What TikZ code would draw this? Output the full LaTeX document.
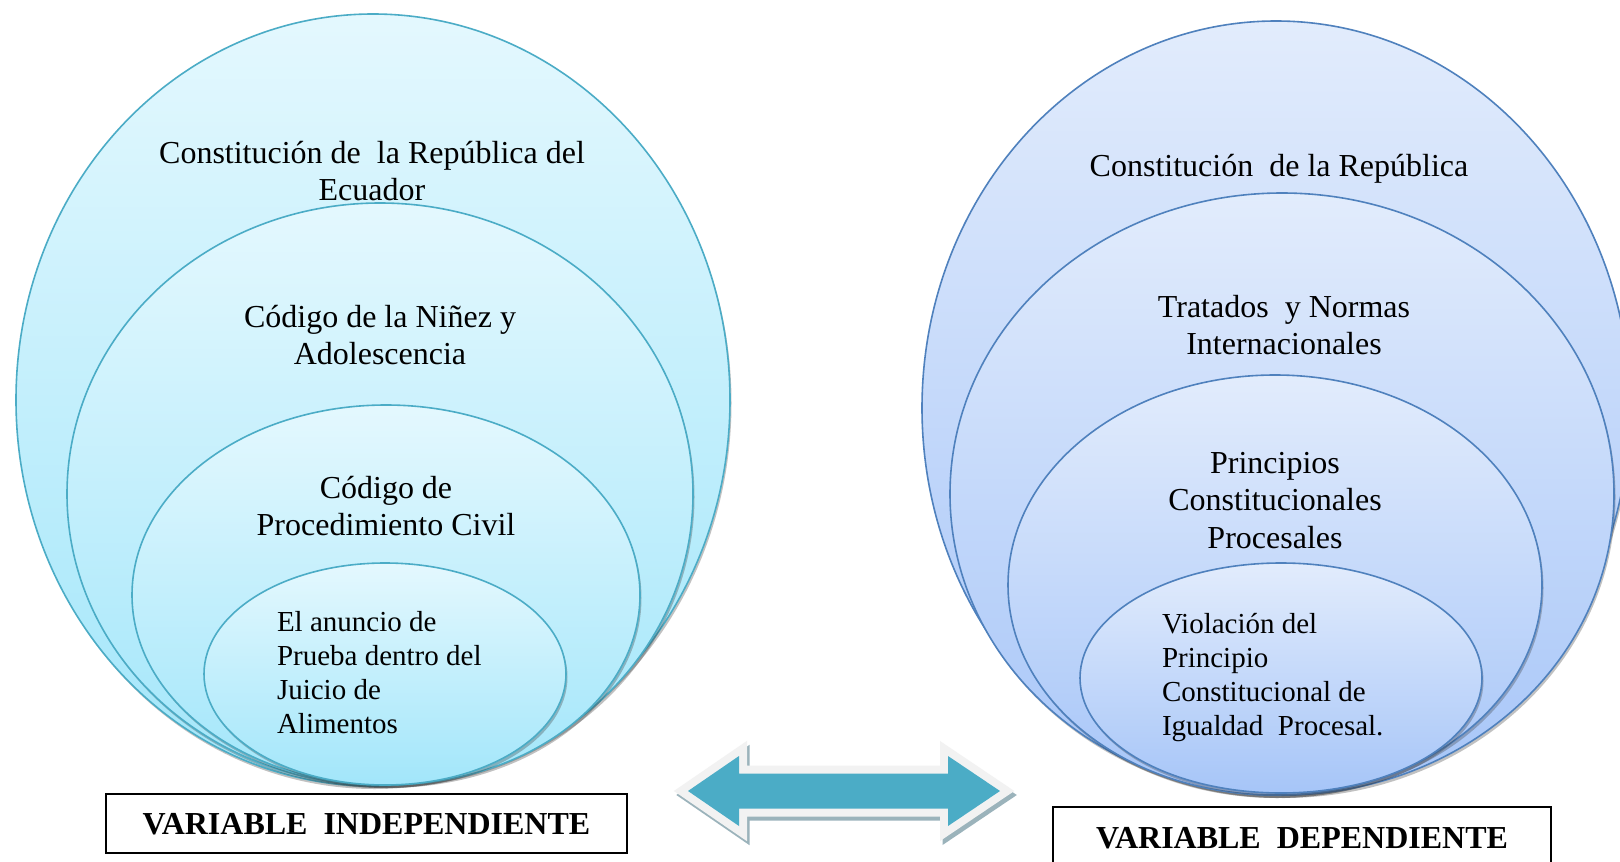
\documentclass[tikz,border=0pt]{standalone}
\usepackage{fontspec}
\setmainfont{Liberation Serif}
\usetikzlibrary{shapes.geometric,shadows}
\definecolor{aquaB}{RGB}{75,172,198}
\definecolor{aquaT}{RGB}{228,248,254}
\definecolor{aquaD}{RGB}{162,230,250}
\definecolor{blueB}{RGB}{79,129,189}
\definecolor{blueT}{RGB}{226,236,252}
\definecolor{blueD}{RGB}{166,197,248}
\definecolor{arrowF}{RGB}{75,172,198}
\definecolor{arrowE}{RGB}{242,242,242}
\definecolor{arrowS}{RGB}{138,166,176}
\begin{document}
\begin{tikzpicture}[x=1pt,y=-1pt,
  ellbase/.style={ellipse, inner sep=0pt, outer sep=0pt, line width=1.6pt,
    drop shadow={shadow xshift=1.5pt, shadow yshift=-3pt, opacity=0.3, fill=black!80}},
  aquaell/.style={ellbase, draw=aquaB, top color=aquaT, bottom color=aquaD},
  blueell/.style={ellbase, draw=blueB, top color=blueT, bottom color=blueD},
  esize/.style 2 args={minimum width=#1pt, minimum height=#2pt},
  txt/.style={inner sep=0pt, outer sep=0pt, align=center, anchor=base, font=\fontsize{32}{37}\selectfont},
  txtin/.style={inner sep=0pt, outer sep=0pt, align=left, anchor=base west, font=\fontsize{29}{33.8}\selectfont},
  varbox/.style={draw=black, line width=1.6pt, inner sep=0pt, text depth=0pt, font=\fontsize{32}{37}\selectfont\bfseries}
]
\useasboundingbox (0,0) rectangle (1620,862);
\fill[white] (0,0) rectangle (1620,862);

% left group
\node[aquaell, esize={714}{772}] (L1) at (373,400) {};
\node[aquaell, esize={626}{582}] (L2) at (380,494) {};
\node[aquaell, esize={508}{380}] (L3) at (386,595) {};
\node[aquaell, esize={362}{222}] (L4) at (385,674) {};

% right group
\node[blueell, esize={708}{774}] (R1) at (1276,408) {};
\node[blueell, esize={664}{602}] (R2) at (1282,494) {};
\node[blueell, esize={534}{420}] (R3) at (1275,585) {};
\node[blueell, esize={402}{230}] (R4) at (1281,678) {};

% texts left (anchor base = baseline of the last line)
\node[txt] (tL1) at (372,200) {Constitución de\ \ la República del\\Ecuador};
\node[txt] (tL2) at (380,364) {Código de la Niñez y\\Adolescencia};
\node[txt] (tL3) at (386,535) {Código de\\Procedimiento Civil};
\node[txtin] (tL4) at (277,733) {El anuncio de\\Prueba dentro del\\Juicio de\\Alimentos};

% texts right
\node[txt] (tR1) at (1279,176) {Constitución\ \ de la República};
\node[txt] (tR2) at (1284,354) {Tratados\ \ y Normas\\Internacionales};
\node[txt, font=\fontsize{32}{37.5}\selectfont] (tR3) at (1275,548) {Principios\\Constitucionales\\Procesales};
\node[txtin] (tR4) at (1162,735) {Violación del\\Principio\\Constitucional de\\Igualdad\ \ Procesal.};

% boxes
\node[varbox, minimum width=521pt, minimum height=59pt] (bL) at (366.5,823.5) {VARIABLE\ \ INDEPENDIENTE};
\node[varbox, minimum width=498pt, minimum height=61pt] (bR) at (1302,837.5) {VARIABLE\ \ DEPENDIENTE};

% double arrow
\def\arrowpath{(688,791) -- (739,756) -- (739,773.5) -- (948,773.5) -- (948,756) -- (1000,791) -- (948,826) -- (948,808.5) -- (739,808.5) -- (739,826) -- cycle}
\begin{scope}[shift={(2.5,4)}]
  \filldraw[arrowS, line width=16pt, line join=miter, opacity=0.85] \arrowpath;
\end{scope}
\filldraw[arrowE, line width=16pt, line join=miter] \arrowpath;
\fill[arrowF] \arrowpath;
\end{tikzpicture}
\end{document}
